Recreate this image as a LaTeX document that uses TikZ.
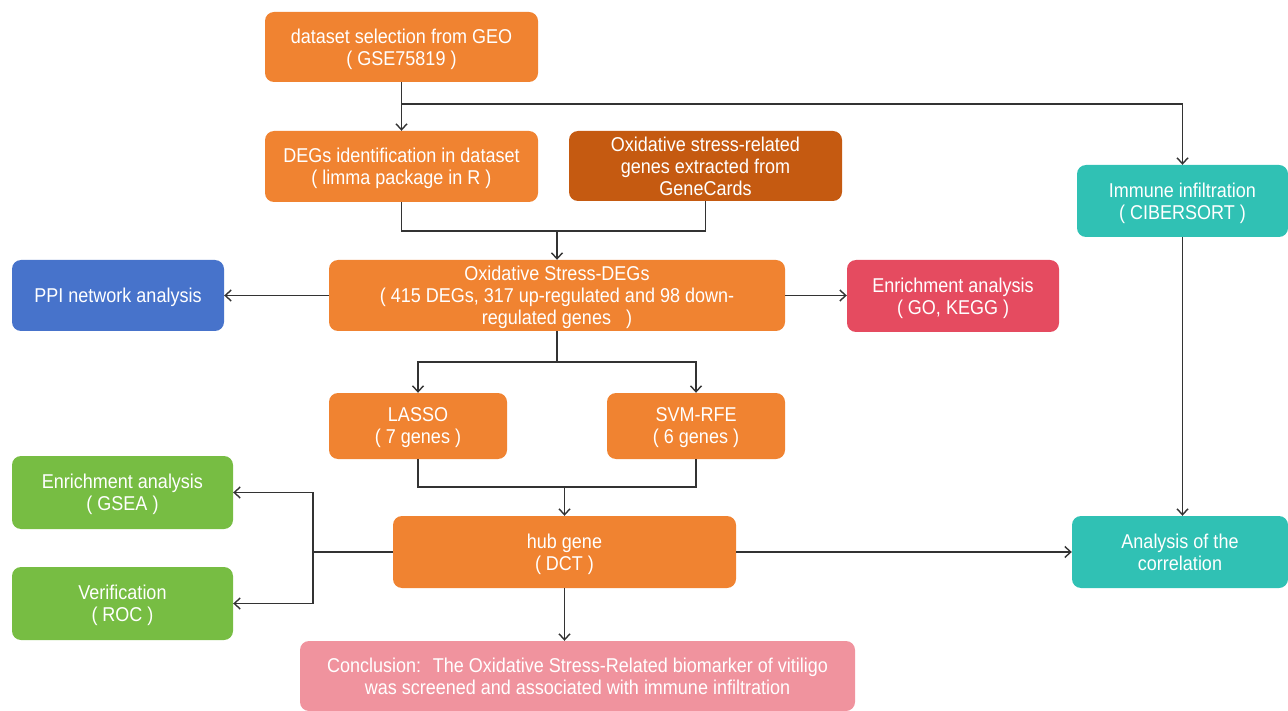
\documentclass[tikz,border=0pt]{standalone}
\usepackage{fontspec}
\setmainfont[FakeStretch=0.9]{Liberation Sans}
\usetikzlibrary{arrows.meta}
\definecolor{orng}{HTML}{F08331}
\definecolor{dorng}{HTML}{C55A11}
\definecolor{blu}{HTML}{4773CB}
\definecolor{rd}{HTML}{E54B60}
\definecolor{grn}{HTML}{77BD43}
\definecolor{tl}{HTML}{30C1B4}
\definecolor{pnk}{HTML}{F0939E}
\definecolor{ln}{HTML}{333333}
\tikzset{
  box/.style={rounded corners=9pt, inner sep=2pt, align=center, text=white,
    text depth=-1pt, font=\fontsize{20}{22}\selectfont},
  line/.style={draw=ln, line width=1.4pt},
  arr/.style={line, -{Straight Barb[length=6pt,width=11pt]}}
}
\begin{document}
\begin{tikzpicture}[x=1pt,y=-1pt]
\useasboundingbox (0,0) rectangle (1288,711);
\node[box, fill=orng, minimum width=273, minimum height=70] (ds) at (401.5,47) {dataset selection from GEO\\( GSE75819 )};
\node[box, fill=orng, minimum width=273, minimum height=71] (deg) at (401.5,166.5) {DEGs identification in dataset\\( limma package in R )};
\node[box, fill=dorng, minimum width=273, minimum height=70] (osg) at (705.5,166) {Oxidative stress-related\\genes extracted from\\GeneCards};
\node[box, fill=tl, minimum width=211, minimum height=72] (imm) at (1182.5,201) {Immune infiltration\\( CIBERSORT )};
\node[box, fill=blu, minimum width=212, minimum height=71] (ppi) at (118,295.5) {PPI network analysis};
\node[box, fill=orng, minimum width=456, minimum height=71] (osd) at (557,295.5) {Oxidative Stress-DEGs\\( 415 DEGs, 317 up-regulated and 98 down-\\regulated genes \ \ )};
\node[box, fill=rd, minimum width=212, minimum height=72] (enr) at (953,296) {Enrichment analysis\\( GO, KEGG )};
\node[box, fill=orng, minimum width=178, minimum height=66] (lasso) at (418,426) {LASSO\\( 7 genes )};
\node[box, fill=orng, minimum width=178, minimum height=66] (svm) at (696,426) {SVM-RFE\\( 6 genes )};
\node[box, fill=grn, minimum width=221, minimum height=73] (gsea) at (122.5,492.5) {Enrichment analysis\\( GSEA )};
\node[box, fill=grn, minimum width=221, minimum height=73] (roc) at (122.5,603.5) {Verification\\( ROC )};
\node[box, fill=orng, minimum width=343, minimum height=72] (hub) at (564.5,552) {hub gene\\( DCT )};
\node[box, fill=tl, minimum width=216, minimum height=72] (cor) at (1180,552) {Analysis of the\\correlation};
\node[box, fill=pnk, minimum width=555, minimum height=70] (con) at (577.5,676) {Conclusion: \ The Oxidative Stress-Related biomarker of vitiligo\\was screened and associated with immune infiltration};
\coordinate (j1) at (401.5,104);
\coordinate (j2) at (557,231);
\coordinate (j3) at (557,362);
\coordinate (j4) at (564.5,487);
\coordinate (j5) at (313,552);
\draw[arr] (ds.south) -- (deg.north);
\draw[arr] (j1) -| (imm.north);
\draw[line] (deg.south) |- (j2);
\draw[line] (osg.south) |- (j2);
\draw[arr] (j2) -- (osd.north);
\draw[arr] (osd.west) -- (ppi.east);
\draw[arr] (osd.east) -- (osd.east -| enr.west);
\draw[line] (osd.south) -- (j3);
\draw[arr] (j3) -| (lasso.north);
\draw[arr] (j3) -| (svm.north);
\draw[line] (lasso.south) |- (j4);
\draw[line] (svm.south) |- (j4);
\draw[arr] (j4) -- (hub.north);
\draw[line] (hub.west) -- (j5);
\draw[arr] (j5) |- (gsea.east);
\draw[arr] (j5) |- (roc.east);
\draw[arr] (hub.east) -- (cor.west);
\draw[arr] (imm.south) -- (imm.south |- cor.north);
\draw[arr] (hub.south) -- (hub.south |- con.north);
\end{tikzpicture}
\end{document}
